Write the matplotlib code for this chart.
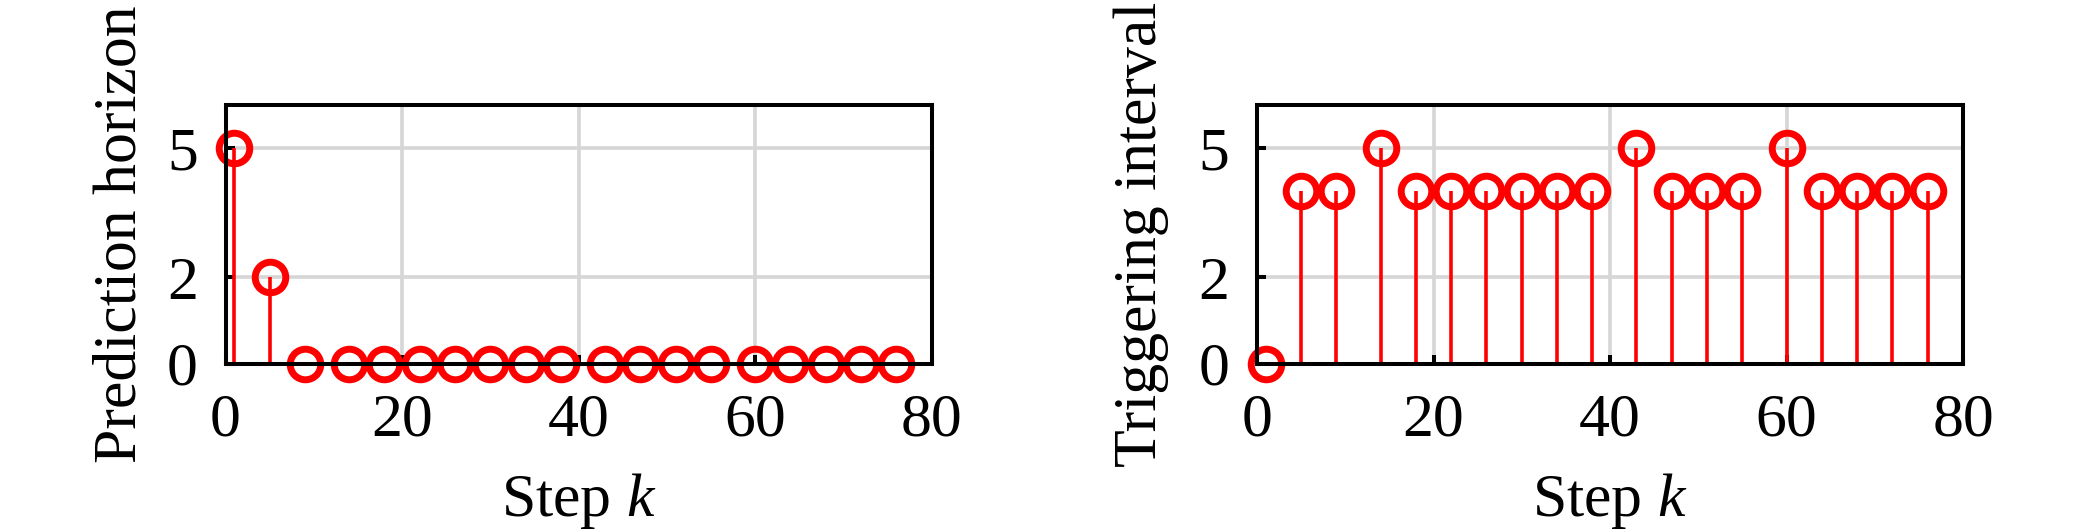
import matplotlib
matplotlib.use("Agg")
import matplotlib.pyplot as plt

plt.rcParams['font.family'] = ['Liberation Serif', 'DejaVu Serif']
plt.rcParams['mathtext.fontset'] = 'custom'
plt.rcParams['mathtext.rm'] = 'Liberation Serif'
plt.rcParams['mathtext.it'] = 'Liberation Serif:italic'

# ---- data ----
steps = [1, 5, 9, 14, 18, 22, 26, 30, 34, 38, 43, 47, 51, 55, 60, 64, 68, 72, 76]
prediction_horizon = [5, 2, 0, 0, 0, 0, 0, 0, 0, 0, 0, 0, 0, 0, 0, 0, 0, 0, 0]
triggering_interval = [0, 4, 4, 5, 4, 4, 4, 4, 4, 4, 5, 4, 4, 4, 5, 4, 4, 4, 4]
xticks = [0, 20, 40, 60, 80]
yticks = [0, 2, 5]
ylabels = ["Prediction horizon", "Triggering interval"]
xlabel = "Step $k$"

W, H = 2079, 532
fig = plt.figure(figsize=(W / 100, H / 100), dpi=100)

ax_w = 706 / W
ax_h = 258.5 / H
ax_b = 1 - 363.5 / H
lefts = [225.5 / W, 1257 / W]
ylab_x = [-0.109, -0.1246]

for i, (vals, lab) in enumerate(zip([prediction_horizon, triggering_interval], ylabels)):
    ax = fig.add_axes([lefts[i], ax_b, ax_w, ax_h])
    ml, sl, bl = ax.stem(steps, vals, linefmt='-', markerfmt='o', basefmt=' ')
    sl.set_color('#ff0000')
    sl.set_linewidth(2.6)
    ml.set_markerfacecolor('none')
    ml.set_markeredgecolor('#ff0000')
    ml.set_markersize(22)
    ml.set_markeredgewidth(5.0)
    ml.set_clip_on(False)
    ml.set_zorder(2.2)
    bl.set_visible(False)

    ax.set_xlim(0, 80)
    ax.set_ylim(0, 6)
    ax.set_xticks(xticks)
    ax.set_yticks(yticks)
    ax.grid(True, color='#d6d6d6', linewidth=2.6)
    ax.set_axisbelow(True)
    for sp in ax.spines.values():
        sp.set_linewidth(2.9)
        sp.set_color('black')
        sp.set_zorder(3)
    ax.tick_params(axis='both', direction='in', length=6.5, width=2.9,
                   labelsize=44.5, colors='black')
    ax.tick_params(axis='x', pad=21)
    ax.tick_params(axis='y', pad=20)
    ax.set_ylabel(lab, fontsize=44.5)
    ax.yaxis.set_label_coords(ylab_x[i], 0.5)
    ax.set_xlabel(xlabel, fontsize=44.5)
    ax.xaxis.set_label_coords(0.5, -0.415)

fig.savefig("out.png", dpi=100, facecolor='white')
